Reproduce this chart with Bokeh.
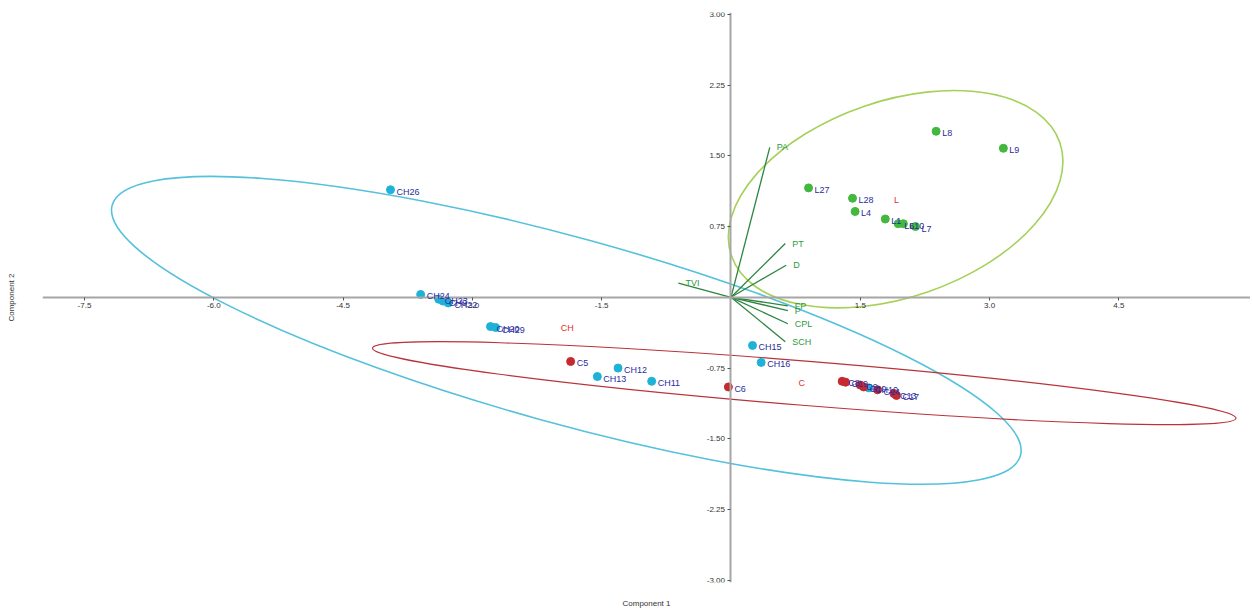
from bokeh.plotting import figure
from bokeh.models import (ColumnDataSource, LinearAxis, FixedTicker, PrintfTickFormatter,
                          Range1d, LabelSet)
from bokeh.core.properties import value
from bokeh.embed import file_html
from bokeh.resources import INLINE

# ---- group CH (cyan) ----
ch_names = ["CH26", "CH24", "CH23", "CH9", "CH22", "CH20", "CH29", "CH12", "CH13",
            "CH11", "CH15", "CH16", "CH10"]
ch_x = [-3.95, -3.60, -3.39, -3.34, -3.28, -2.79, -2.73, -1.31, -1.55, -0.92, 0.25, 0.35, 1.60]
ch_y = [1.14, 0.03, -0.02, -0.04, -0.06, -0.31, -0.32, -0.75, -0.84, -0.89, -0.51, -0.69, -0.96]

# ---- group C (red) ----
c_names = ["C5", "C6", "C8", "C19", "C9", "C10", "C14", "C13", "C17"]
c_x = [-1.86, -0.03, 1.29, 1.33, 1.50, 1.54, 1.70, 1.89, 1.92]
c_y = [-0.68, -0.95, -0.89, -0.90, -0.93, -0.95, -0.98, -1.02, -1.04]

# ---- group L (green) ----
l_names = ["L8", "L9", "L27", "L28", "L4", "L1", "L6", "L10", "L7"]
l_x = [2.38, 3.16, 0.90, 1.41, 1.44, 1.79, 1.94, 2.00, 2.14]
l_y = [1.76, 1.58, 1.16, 1.05, 0.91, 0.83, 0.78, 0.78, 0.75]

# ---- group centroids ----
grp_names = ["CH", "C", "L"]
grp_x = [-1.90, 0.82, 1.92]
grp_y = [-0.33, -0.91, 1.03]

# ---- 95% ellipses (centre, full width, full height, angle in rad) ----
ell_x = [-1.91, 0.85, 1.91]
ell_y = [-0.35, -0.91, 1.04]
ell_w = [10.93, 10.05, 4.03]
ell_h = [1.97, 0.47, 2.08]
ell_a = [-0.269, -0.081, 0.332]
ell_col = ["#55c1dc", "#b8333a", "#a6d05a"]
ell_lw = [1.6, 1.2, 1.6]

# ---- variable loadings ----
ld_names = ["PA", "PT", "D", "TVI", "FP", "P", "CPL", "SCH"]
ld_x = [0.45, 0.63, 0.64, -0.61, 0.66, 0.66, 0.66, 0.63]
ld_y = [1.59, 0.57, 0.34, 0.15, -0.09, -0.14, -0.28, -0.47]

x_ticks = [-7.5, -6.0, -4.5, -3.0, -1.5, 1.5, 3.0, 4.5]
y_ticks = [-3.0, -2.25, -1.5, -0.75, 0.75, 1.5, 2.25, 3.0]
x_title = "Component 1"
y_title = "Component 2"

FONT = "Liberation Sans"

p = figure(width=1250, height=610, output_backend="svg", toolbar_location=None,
           x_range=Range1d(-7.987, 6.027), y_range=Range1d(-3.023, 3.019),
           x_axis_location=None, y_axis_location=None,
           min_border_left=42, min_border_right=0, min_border_top=12, min_border_bottom=27)
p.xgrid.visible = False
p.ygrid.visible = False
p.outline_line_color = None
p.background_fill_color = "white"


def style_axis(ax):
    ax.axis_line_color = "#a6a6a6"
    ax.axis_line_width = 2
    ax.major_tick_line_color = "#555555"
    ax.major_tick_out = 3
    ax.major_tick_in = 0
    ax.minor_tick_line_color = None
    ax.major_label_text_font = FONT
    ax.major_label_text_font_size = "8px"
    ax.major_label_text_color = "#333333"
    ax.major_label_standoff = 3


# axes crossing at the origin
xaxis = LinearAxis(fixed_location=0, ticker=FixedTicker(ticks=x_ticks),
                   formatter=PrintfTickFormatter(format="%.1f"))
yaxis = LinearAxis(fixed_location=0, ticker=FixedTicker(ticks=y_ticks),
                   formatter=PrintfTickFormatter(format="%.2f"))
style_axis(xaxis)
style_axis(yaxis)
p.add_layout(xaxis, "below")
p.add_layout(yaxis, "left")


# edge axes that only carry the axis titles
def title_axis(label, standoff):
    ax = LinearAxis(ticker=FixedTicker(ticks=[]), axis_label=label)
    ax.axis_line_color = None
    ax.major_tick_line_color = None
    ax.minor_tick_line_color = None
    ax.major_tick_out = 0
    ax.minor_tick_out = 0
    ax.major_label_text_font_size = "0px"
    ax.axis_label_text_font = FONT
    ax.axis_label_text_font_size = "8px"
    ax.axis_label_text_font_style = "normal"
    ax.axis_label_text_color = "#333333"
    ax.axis_label_standoff = standoff
    return ax


p.add_layout(title_axis(x_title, 16), "below")
p.add_layout(title_axis(y_title, 27), "left")

# ellipses
esrc = ColumnDataSource(dict(x=ell_x, y=ell_y, w=ell_w, h=ell_h, a=ell_a, c=ell_col, lw=ell_lw))
p.ellipse(x="x", y="y", width="w", height="h", angle="a", source=esrc,
          fill_color=None, line_color="c", line_width="lw")

# loadings
lsrc = ColumnDataSource(dict(x0=[0] * len(ld_x), y0=[0] * len(ld_y), x=ld_x, y=ld_y, n=ld_names))
p.segment(x0="x0", y0="y0", x1="x", y1="y", source=lsrc, line_color="#2e8540", line_width=1.3)
p.add_layout(LabelSet(x="x", y="y", text="n", source=lsrc, x_offset=7, y_offset=0,
                      text_font=value(FONT), text_font_size=value("9px"),
                      text_color="#2e9a3e", text_baseline="middle"))

# points
groups = [(ch_names, ch_x, ch_y, "#1fb2d8"),
          (c_names, c_x, c_y, "#c42a2e"),
          (l_names, l_x, l_y, "#42b83e")]
for names, xs, ys, col in groups:
    src = ColumnDataSource(dict(x=xs, y=ys, n=names))
    p.scatter(x="x", y="y", source=src, size=8, fill_color=col, line_color=col)
for names, xs, ys, col in groups:
    src = ColumnDataSource(dict(x=xs, y=ys, n=names))
    p.add_layout(LabelSet(x="x", y="y", text="n", source=src, x_offset=6, y_offset=-2,
                          text_font=value(FONT), text_font_size=value("9px"),
                          text_color="#2b2ba0", text_baseline="middle"))

# group centroid labels
gsrc = ColumnDataSource(dict(x=grp_x, y=grp_y, n=grp_names))
p.add_layout(LabelSet(x="x", y="y", text="n", source=gsrc, text_align="center",
                      text_baseline="middle", text_font=value(FONT), text_font_size=value("9px"),
                      text_color="#e0302a"))

open("out.html", "w").write(file_html(p, INLINE))
